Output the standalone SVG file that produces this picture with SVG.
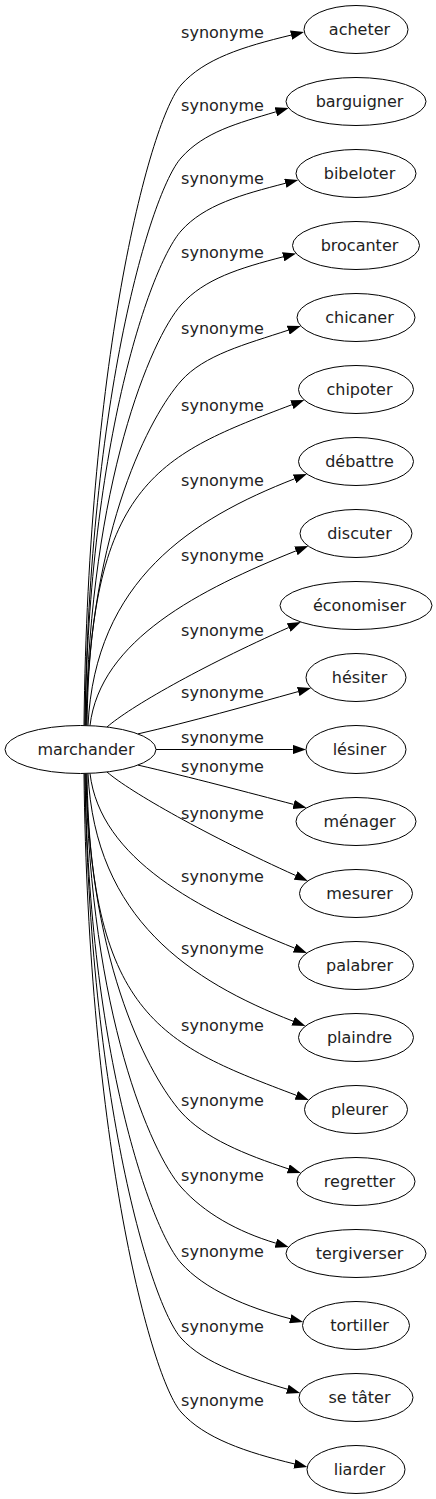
<svg xmlns="http://www.w3.org/2000/svg" width="436" height="1499" viewBox="0 0 436 1499">
<style>
.n ellipse{fill:#fff;stroke:#000;stroke-width:1}
.n text{font-family:"DejaVu Sans",Verdana,sans-serif;font-size:16px;fill:#222;text-anchor:middle}
.e path{fill:none;stroke:#000;stroke-width:1;marker-end:url(#ah)}
.e text{font-family:"DejaVu Sans",Verdana,sans-serif;font-size:16px;fill:#222;text-anchor:middle}
</style>
<defs>
<marker id="ah" markerUnits="userSpaceOnUse" viewBox="0 0 13.3 9.4" refX="0" refY="4.7" markerWidth="13.3" markerHeight="9.4" orient="auto">
<path d="M0,0 L13.3,4.7 L0,9.4 Z" fill="#000"/>
</marker>
</defs>
<rect width="436" height="1499" fill="#fff"/>
<g id="edges" class="e">
<g id="e0"><path d="M84,725.5 C88,350 151.2,118.7 181,85 C204.2,58.8 242.5,46.8 291.1,35.1"/><text x="222.5" y="38">synonyme</text></g>
<g id="e1"><path d="M85,725.5 C89,396 151.2,191.7 181,158 C204.2,131.8 237.6,123.3 275.9,111.8"/><text x="222.5" y="111">synonyme</text></g>
<g id="e2"><path d="M85,725.5 C89,439 151.2,264.7 181,231 C204.2,204.8 241.7,194.6 285.3,183.3"/><text x="222.5" y="184">synonyme</text></g>
<g id="e3"><path d="M86,725.5 C90,482 151.2,338.7 181,305 C204.2,278.8 239.6,268.1 283.2,256.8"/><text x="222.5" y="258">synonyme</text></g>
<g id="e4"><path d="M86,725.5 C90,526 151.2,414.7 181,381 C204.2,354.8 245.5,344.3 288.2,330.2"/><text x="222.5" y="334">synonyme</text></g>
<g id="e5"><path d="M87,725.5 C90,480 161,454.4 291.9,404.7"/><text x="222.5" y="411">synonyme</text></g>
<g id="e6"><path d="M88,725.5 C95,580 192,518.8 294.5,478.8"/><text x="222.5" y="486">synonyme</text></g>
<g id="e7"><path d="M90,725.6 C100,640 200.3,589.2 295.9,550.9"/><text x="222.5" y="561">synonyme</text></g>
<g id="e8"><path d="M107,727 C130,707 200,667 288.7,627.5"/><text x="222.5" y="636">synonyme</text></g>
<g id="e9"><path d="M138,733.9 C190,722 250,705 298.2,691.6"/><text x="222.5" y="698">synonyme</text></g>
<g id="e10"><path d="M156,749.5 L292.7,749.5"/><text x="222.5" y="743">synonyme</text></g>
<g id="e11"><path d="M138,765.1 C190,777 250,793 293.6,804.4"/><text x="222.5" y="772">synonyme</text></g>
<g id="e12"><path d="M107,772 C130,792 209,836.5 295.7,875.5"/><text x="222.5" y="819">synonyme</text></g>
<g id="e13"><path d="M90,773.4 C100,859 199,909.8 294.6,948.1"/><text x="222.5" y="882">synonyme</text></g>
<g id="e14"><path d="M88,773.5 C95,919 190.6,981.2 293.1,1021.2"/><text x="222.5" y="954">synonyme</text></g>
<g id="e15"><path d="M87,773.5 C90,1019 165.4,1045.6 296.3,1095.3"/><text x="222.5" y="1031">synonyme</text></g>
<g id="e16"><path d="M86,773.5 C90,969.8 151.2,1078.3 181,1112 C204.2,1138.2 245.5,1154.7 288.2,1168.8"/><text x="222.5" y="1106">synonyme</text></g>
<g id="e17"><path d="M86,773.5 C90,1013.3 151.2,1153.3 181,1187 C204.2,1213.2 237.6,1231.7 275.9,1243.2"/><text x="222.5" y="1181">synonyme</text></g>
<g id="e18"><path d="M85,773.5 C89,1057.4 151.2,1229.3 181,1263 C204.2,1289.2 246.6,1307.4 290.2,1318.7"/><text x="222.5" y="1257">synonyme</text></g>
<g id="e19"><path d="M85,773.5 C89,1100.9 151.2,1304.3 181,1338 C204.2,1364.2 249,1377.7 287.3,1389.2"/><text x="222.5" y="1332">synonyme</text></g>
<g id="e20"><path d="M84,773.5 C88,1144 151.2,1378.3 181,1412 C204.2,1438.2 245.8,1452.2 294.4,1463.9"/><text x="222.5" y="1406">synonyme</text></g>
</g>
<g id="marchander" class="n"><ellipse cx="80.5" cy="749.5" rx="75.5" ry="24"/><text x="86" y="755">marchander</text></g>
<g id="acheter" class="n"><ellipse cx="356" cy="29.5" rx="52" ry="24"/><text x="359.5" y="35">acheter</text></g>
<g id="barguigner" class="n"><ellipse cx="356" cy="101.5" rx="70" ry="24"/><text x="359.5" y="107">barguigner</text></g>
<g id="bibeloter" class="n"><ellipse cx="356" cy="173.5" rx="60" ry="24"/><text x="359.5" y="179">bibeloter</text></g>
<g id="brocanter" class="n"><ellipse cx="356" cy="245.5" rx="63.5" ry="24"/><text x="359.5" y="251">brocanter</text></g>
<g id="chicaner" class="n"><ellipse cx="356" cy="317.5" rx="59" ry="24"/><text x="359.5" y="323">chicaner</text></g>
<g id="chipoter" class="n"><ellipse cx="356" cy="389.5" rx="57.5" ry="24"/><text x="359.5" y="395">chipoter</text></g>
<g id="debattre" class="n"><ellipse cx="356" cy="461.5" rx="57.5" ry="24"/><text x="359.5" y="467">débattre</text></g>
<g id="discuter" class="n"><ellipse cx="356" cy="533.5" rx="56" ry="24"/><text x="359.5" y="539">discuter</text></g>
<g id="economiser" class="n"><ellipse cx="356" cy="605.5" rx="76" ry="24"/><text x="359.5" y="611">économiser</text></g>
<g id="hesiter" class="n"><ellipse cx="356" cy="677.5" rx="50" ry="24"/><text x="359.5" y="683">hésiter</text></g>
<g id="lesiner" class="n"><ellipse cx="356" cy="749.5" rx="50" ry="24"/><text x="359.5" y="755">lésiner</text></g>
<g id="menager" class="n"><ellipse cx="356" cy="821.5" rx="60" ry="24"/><text x="359.5" y="827">ménager</text></g>
<g id="mesurer" class="n"><ellipse cx="356" cy="893.5" rx="56.5" ry="24"/><text x="359.5" y="899">mesurer</text></g>
<g id="palabrer" class="n"><ellipse cx="356" cy="965.5" rx="57.5" ry="24"/><text x="359.5" y="971">palabrer</text></g>
<g id="plaindre" class="n"><ellipse cx="356" cy="1037.5" rx="57.5" ry="24"/><text x="359.5" y="1043">plaindre</text></g>
<g id="pleurer" class="n"><ellipse cx="356" cy="1109.5" rx="51.5" ry="24"/><text x="359.5" y="1115">pleurer</text></g>
<g id="regretter" class="n"><ellipse cx="356" cy="1181.5" rx="59" ry="24"/><text x="359.5" y="1187">regretter</text></g>
<g id="tergiverser" class="n"><ellipse cx="356" cy="1253.5" rx="70" ry="24"/><text x="359.5" y="1259">tergiverser</text></g>
<g id="tortiller" class="n"><ellipse cx="356" cy="1325.5" rx="53.5" ry="24"/><text x="359.5" y="1331">tortiller</text></g>
<g id="se-tater" class="n"><ellipse cx="356" cy="1397.5" rx="57" ry="24"/><text x="359.5" y="1403">se tâter</text></g>
<g id="liarder" class="n"><ellipse cx="356" cy="1469.5" rx="49" ry="24"/><text x="359.5" y="1475">liarder</text></g>
</svg>
